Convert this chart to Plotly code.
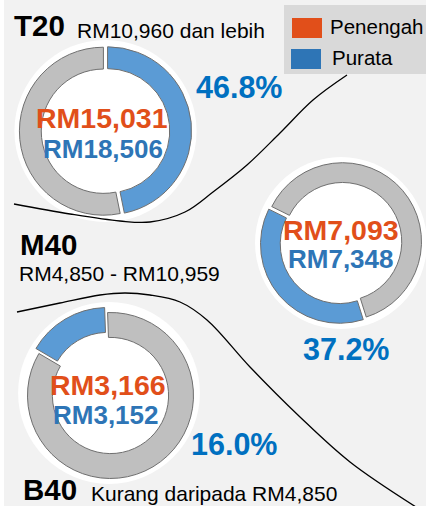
import plotly.graph_objects as go

W, H = 426, 506

# ---------------- data ----------------
groups = ["T20", "M40", "B40"]
income_ranges = ["RM10,960 dan lebih", "RM4,850 - RM10,959", "Kurang daripada RM4,850"]
share_pct = [46.8, 37.2, 16.0]
median_rm = [15031, 7093, 3166]
mean_rm = [18506, 7348, 3152]
legend_labels = ["Penengah", "Purata"]

# ---------------- styling / positions (pixels) ----------------
FONT = "Liberation Sans, Arial, sans-serif"
BLUE_RING = "#5b9bd5"
GREY_RING = "#bfbfbf"
ORANGE = "#e14f1a"
BLUE_TXT = "#2e75b6"
PCT_BLUE = "#0070c0"
BG = "#f2f2f2"

donut_cx = [105.5, 341, 109]
donut_cy = [131, 243, 393]
donut_r = [84, 79, 83]
donut_hole = [0.74, 0.75, 0.70]
donut_rot = [0, 162.5, -59.6]
donut_dir = ["clockwise", "clockwise", "clockwise"]
donut_pull = [0.025, 0.025, 0.035]

median_pos = [(101.5, 118), (341, 230), (107.5, 385)]
mean_pos = [(103, 149), (340.5, 259), (106, 415)]
pct_pos = [(238.5, 87), (346, 349), (233.5, 444)]
group_pos = [(12, 25), (18, 244), (21, 489)]
range_pos = [(75, 30), (17, 273), (89, 493)]

# decorative separator curves
curve1_x = [14, 70, 120, 150, 185, 213, 247, 280, 313, 347]
curve1_y = [204, 214, 221, 222, 212, 192, 165, 133, 100, 75]
curve2_x = [17, 60, 100, 125, 150, 180, 207, 250, 300, 350, 416]
curve2_y = [312, 303, 295, 293, 295, 302, 320, 367, 417, 462, 507]

fig = go.Figure()

# curves (cartesian, pixel-scaled axes)
for xs, ys in [(curve1_x, curve1_y), (curve2_x, curve2_y)]:
    fig.add_trace(go.Scatter(x=xs, y=ys, mode="lines",
                             line=dict(color="black", width=1.3, shape="spline", smoothing=1.0),
                             hoverinfo="skip", showlegend=False))

shapes = []
# white strip on the left edge
shapes.append(dict(type="rect", xref="x", yref="y", x0=0, x1=4, y0=0, y1=H,
                   fillcolor="white", line=dict(width=0), layer="below"))

# donuts
for i in range(3):
    r = donut_r[i]
    p = donut_pull[i]
    half = r * (1 + p)
    cx, cy = donut_cx[i], donut_cy[i]
    halo = half + 5
    shapes.append(dict(type="circle", xref="x", yref="y",
                       x0=cx - halo, x1=cx + halo, y0=cy - halo, y1=cy + halo,
                       fillcolor="white", line=dict(width=0), layer="below"))
    fig.add_trace(go.Pie(
        values=[share_pct[i], 100 - share_pct[i]],
        labels=["share", "rest"],
        marker=dict(colors=[BLUE_RING, GREY_RING], line=dict(color="#6f6f6f", width=1)),
        hole=donut_hole[i], sort=False, direction=donut_dir[i], rotation=donut_rot[i],
        pull=[p, p], textinfo="none", hoverinfo="skip", showlegend=False,
        domain=dict(x=[(cx - half) / W, (cx + half) / W],
                    y=[1 - (cy + half) / H, 1 - (cy - half) / H]),
    ))

# legend box
shapes.append(dict(type="rect", xref="x", yref="y", x0=284, x1=W, y0=5, y1=74,
                   fillcolor="#d9d9d9", line=dict(width=0), layer="below"))
shapes.append(dict(type="rect", xref="x", yref="y", x0=292, x1=322, y0=18, y1=38,
                   fillcolor=ORANGE, line=dict(width=0), layer="above"))
shapes.append(dict(type="rect", xref="x", yref="y", x0=291, x1=321, y0=49, y1=69,
                   fillcolor=BLUE_TXT, line=dict(width=0), layer="above"))

ann = []
def add_text(txt, x, y, size, color, bold=False, anchor="center"):
    ann.append(dict(text=f"<b>{txt}</b>" if bold else txt, x=x, y=y, xref="x", yref="y",
                    xanchor=anchor, yanchor="middle", showarrow=False,
                    font=dict(family=FONT, size=size, color=color)))

add_text(legend_labels[0], 328, 26, 20.5, "black", anchor="left")
add_text(legend_labels[1], 330, 57, 20.5, "black", anchor="left")

for i in range(3):
    add_text(groups[i], group_pos[i][0], group_pos[i][1], 29.5, "black", bold=True, anchor="left")
    add_text(income_ranges[i], range_pos[i][0], range_pos[i][1], 21, "black", anchor="left")
    add_text(f"RM{median_rm[i]:,}", median_pos[i][0], median_pos[i][1], 28.5, ORANGE, bold=True)
    add_text(f"RM{mean_rm[i]:,}", mean_pos[i][0], mean_pos[i][1], 26, BLUE_TXT, bold=True)
    add_text(f"{share_pct[i]:.1f}%", pct_pos[i][0], pct_pos[i][1], 30.5, PCT_BLUE, bold=True)

fig.update_layout(
    width=W, height=H, margin=dict(l=0, r=0, t=0, b=0),
    paper_bgcolor=BG, plot_bgcolor=BG,
    xaxis=dict(range=[0, W], visible=False, fixedrange=True),
    yaxis=dict(range=[H, 0], visible=False, fixedrange=True),
    shapes=shapes, annotations=ann, showlegend=False,
)

fig.write_html("out.html", config={"displayModeBar": False},
               post_script="document.body.style.margin='0';document.body.style.overflow='hidden';")
